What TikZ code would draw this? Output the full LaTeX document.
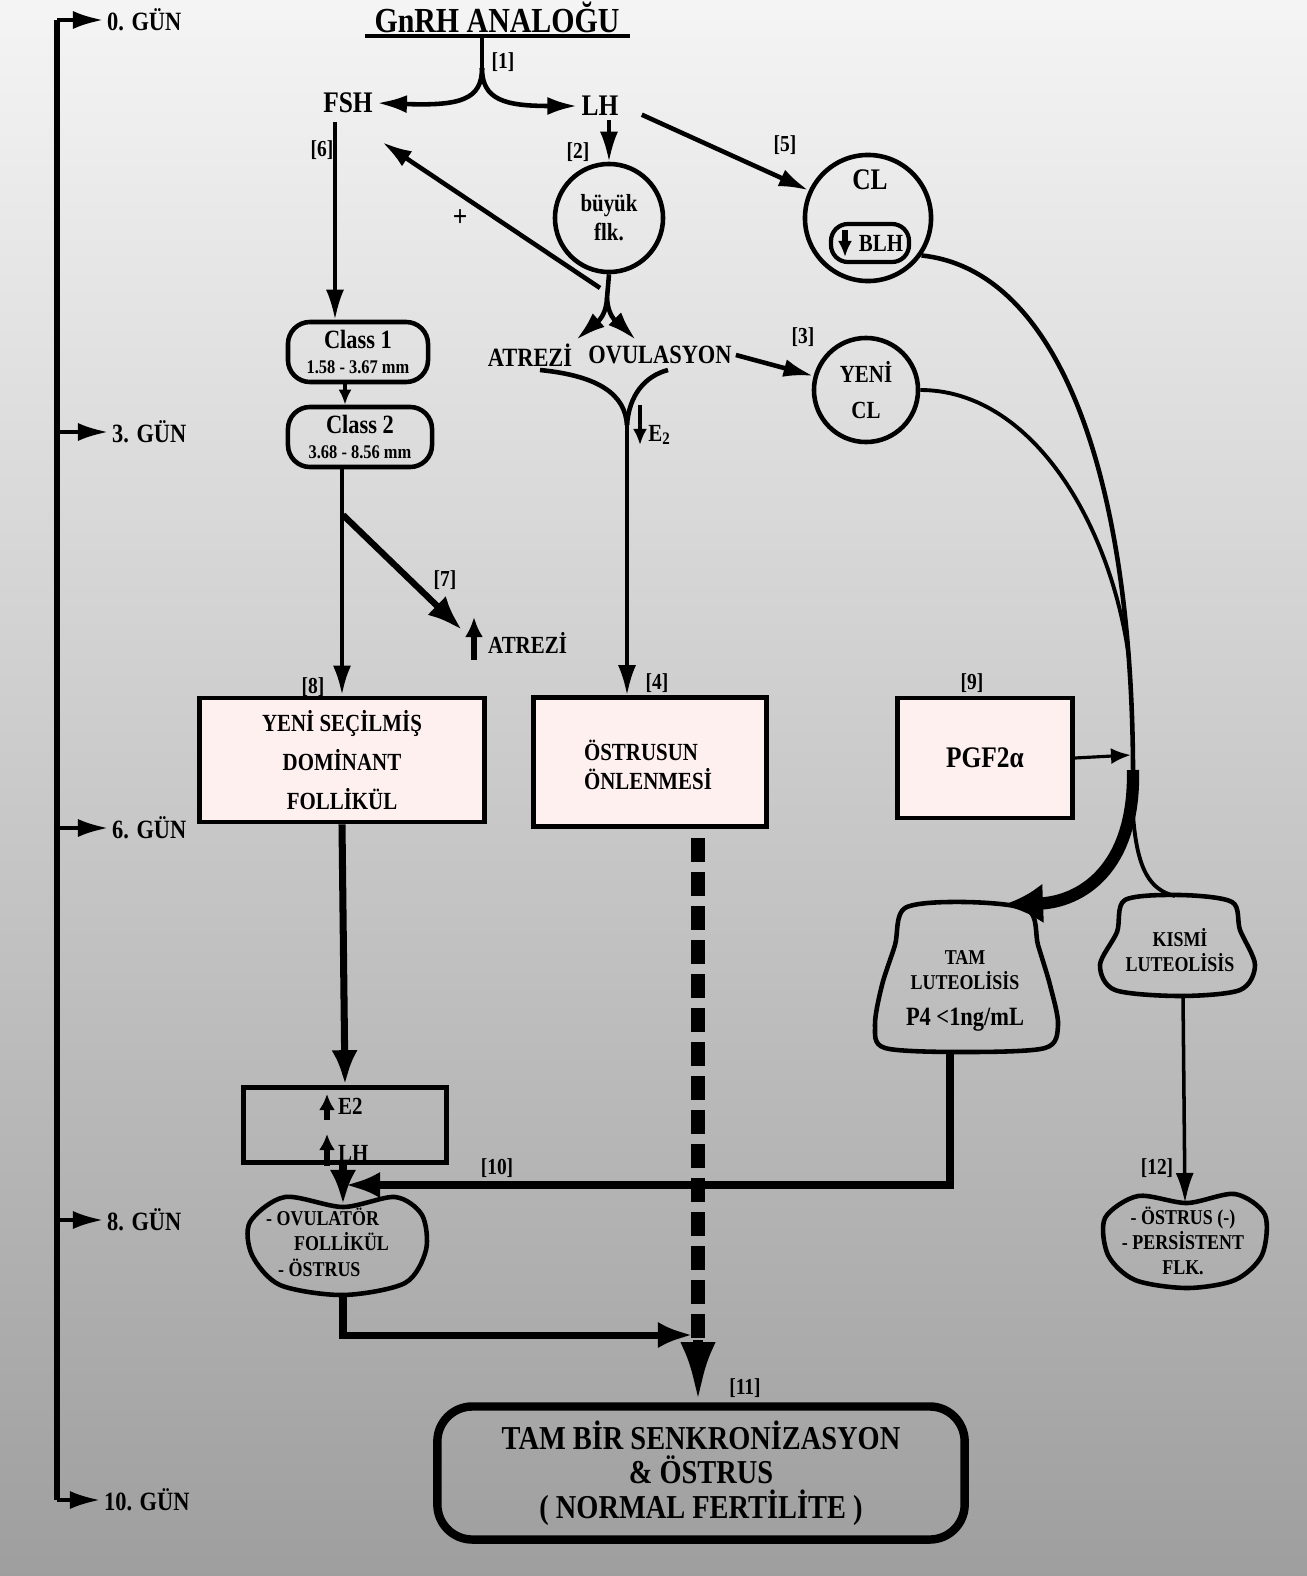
\documentclass[tikz,border=0pt]{standalone}
\usepackage{fontspec}
\setmainfont{Liberation Serif}[FakeStretch=0.85]
\usetikzlibrary{arrows.meta}

\begin{document}
\begin{tikzpicture}[x=0.01cm,y=-0.01cm]
\tikzset{gun/.style={font=\bfseries\fontsize{7.5}{9}\selectfont, inner sep=1pt},
etiket/.style={font=\bfseries\fontsize{6.5}{8}\selectfont, inner sep=1pt},
baslik/.style={font=\bfseries\fontsize{10}{11}\selectfont, inner sep=1pt},
hormon/.style={font=\bfseries\fontsize{8.5}{10}\selectfont, inner sep=1pt},
yazi/.style={font=\bfseries\fontsize{7}{8.2}\selectfont, inner sep=1pt, align=center},
minik/.style={font=\bfseries\fontsize{6}{7.2}\selectfont, inner sep=1pt, align=center},
daire/.style={draw, circle, line width=1.3pt, inner sep=0pt, align=center},
sinif/.style={draw, rounded corners=0.22cm, line width=1.3pt, align=center, inner sep=1pt, font=\bfseries\fontsize{7.5}{8}\selectfont},
kutu/.style={draw, line width=1.3pt, fill=red!6!white, align=center},
bulut/.style={line width=1.3pt},
ok/.style={-{Latex[length=3mm,width=1.8mm]}, line width=1pt},
kalin/.style={-{Latex[length=3.5mm,width=2.6mm]}, line width=2pt}}
\useasboundingbox (0,0) rectangle (1307,1576);
\fill[black!20] (-5,-5) rectangle (1312,1581);
\fill[top color=black!4, bottom color=black!38] (-5,-5) rectangle (1312,1581);
\coordinate (t0) at (57,20);
\coordinate (t3) at (57,432);
\coordinate (t6) at (57,828);
\coordinate (t8) at (57,1220);
\coordinate (t10) at (57,1500);
\node[gun, anchor=west] (g0) at (103,20) {0. GÜN};
\node[gun, anchor=west] (g3) at (108,432) {3. GÜN};
\node[gun, anchor=west] (g6) at (108,828) {6. GÜN};
\node[gun, anchor=west] (g8) at (103,1220) {8. GÜN};
\node[gun, anchor=west] (g10) at (100,1500) {10. GÜN};
\draw[line width=1.5pt] (t0) -- (t10);
\draw[ok] (t0) -- (g0.west);
\draw[ok] (t3) -- (g3.west);
\draw[ok] (t6) -- (g6.west);
\draw[ok] (t8) -- (g8.west);
\draw[ok] (t10) -- (g10.west);
\node[baslik] (gnrh) at (497,17) {GnRH ANALOĞU};
\draw[line width=1.3pt] (365,36) -- (630,36);
\coordinate (gy) at (482,36);
\coordinate (gyalt) at (482,68);
\node[hormon] (fsh) at (348,103) {FSH};
\node[hormon] (lh) at (600,106) {LH};
\node[etiket] (e1) at (503,62) {[1]};
\draw[line width=1.3pt] (gy) -- (gyalt);
\draw[ok, line width=1.3pt] (gyalt) .. controls (482,100) and (460,106) .. (fsh.east);
\draw[ok, line width=1.3pt] (gyalt) .. controls (482,100) and (505,106) .. (lh.west);
\node[daire, minimum size=1.08cm, yazi] (flk) at (609,218) {büyük\\flk.};
\node[daire, minimum size=1.26cm] (cl) at (868,218) {};
\node[hormon] (cly) at (870,180) {CL};
\node[draw, rounded corners=0.17cm, line width=1.2pt, minimum width=0.78cm, minimum height=0.38cm, yazi] (blh) at (870,243) {\hspace{0.22cm}BLH};
\draw[-{Latex[length=1.6mm,width=1.4mm]}, line width=1.6pt] (845,230) -- (845,257);
\node[daire, minimum size=1.04cm, yazi] (ycl) at (866,390) {YENİ\\[2pt]CL};
\node[etiket] (e2) at (578,152) {[2]};
\node[etiket] (e5) at (785,145) {[5]};
\node[etiket] (e3) at (803,337) {[3]};
\node[etiket] (e6) at (322,150) {[6]};
\draw[ok] (lh.south -| flk.north) -- (flk.north);
\draw[ok, line width=1.3pt, shorten <=6pt] (lh.east) -- (cl.155);
\coordinate (arti) at (600,288);
\coordinate (fshsag) at (382,142);
\draw[ok, line width=1.3pt] (arti) -- (fshsag);
\node[hormon] (plus) at (460,218) {+};
\coordinate (flkalt) at (607,298);
\node[yazi, font=\bfseries\fontsize{7.5}{8.5}\selectfont] (atr) at (530,355) {ATREZİ};
\node[yazi, font=\bfseries\fontsize{7.5}{8.5}\selectfont] (ovu) at (660,355) {OVULASYON};
\draw[line width=1.3pt] (flk.south) -- (flkalt);
\draw[ok, line width=1.3pt] (flkalt) .. controls (606,320) and (592,326) .. (576,340);
\draw[ok, line width=1.3pt] (flkalt) .. controls (608,320) and (622,326) .. (636,340);
\draw[ok, line width=1.3pt] (ovu.east) -- (ycl.165);
\coordinate (huni) at (627,425);
\draw[line width=1.3pt] (540,370) .. controls (600,376) and (625,395) .. (huni);
\draw[line width=1.3pt] (668,370) .. controls (645,376) and (629,395) .. (huni);
\node[sinif, minimum width=1.4cm, minimum height=0.6cm] (c1) at (358,352) {Class 1\\[-1pt]{\fontsize{5.5}{6}\selectfont 1.58 - 3.67 mm}};
\node[sinif, minimum width=1.44cm, minimum height=0.6cm] (c2) at (360,437) {Class 2\\[-1pt]{\fontsize{5.5}{6}\selectfont 3.68 - 8.56 mm}};
\coordinate (fshalt) at (335,122);
\draw[ok] (fshalt) -- (fshalt |- c1.north);
\draw[-{Latex[length=1.5mm,width=1.3mm]}, line width=1pt] (c1.south -| 345,0) -- (c2.north -| 345,0);
\node[kutu, minimum width=2.85cm, minimum height=1.24cm, yazi] (yeni) at (342,760) {YENİ SEÇİLMİŞ\\[3pt]DOMİNANT\\[3pt]FOLLİKÜL};
\node[kutu, minimum width=2.33cm, minimum height=1.29cm, yazi] (ostr) at (650,762) {};
\node[yazi, align=left] (ostry) at (648,765) {ÖSTRUSUN\\ÖNLENMESİ};
\node[kutu, minimum width=1.75cm, minimum height=1.2cm, hormon] (pgf) at (985,758) {PGF2α};
\node[etiket] (e8) at (313,687) {[8]};
\node[etiket] (e4) at (657,683) {[4]};
\node[etiket] (e9) at (972,683) {[9]};
\node[etiket] (e7) at (445,580) {[7]};
\draw[ok] (huni) -- (huni |- ostr.north);
\draw[-{Latex[length=1.6mm,width=1.4mm]}, line width=1.4pt] (640,405) -- (640,445);
\node[yazi] (e2yazi) at (660,435) {E\textsubscript{2}};
\draw[ok, line width=1.3pt] (c2.south -| yeni.north) -- (yeni.north);
\coordinate (dal) at (343,515);
\coordinate (dalucu) at (462,630);
\draw[kalin, line width=1.8pt] (dal) -- (dalucu);
\node[yazi, anchor=west] (atr2) at (484,643) {ATREZİ};
\draw[-{Latex[length=2mm,width=1.8mm]}, line width=1.8pt] (474,660) -- (474,617);
\coordinate (kavsak) at (1129,658);
\coordinate (birles) at (1133,790);
\coordinate (tamust) at (1003,905);
\coordinate (kismiust) at (1175,896);
\coordinate (pgfok) at (1131,755);
\draw[line width=1.3pt] (cl.-35) .. controls (1060,270) and (1135,480) .. (birles);
\draw[line width=1.1pt] (ycl.east) .. controls (1030,390) and (1110,520) .. (kavsak);
\draw[-{Latex[length=4mm,width=4mm]}, line width=3.5pt] (1133,770) .. controls (1135,870) and (1080,902) .. (tamust);
\draw[line width=1.1pt] (1133,815) .. controls (1137,870) and (1150,890) .. (kismiust);
\draw[-{Latex[length=2mm,width=1.6mm]}, line width=0.9pt] (pgf.east) -- (pgfok);
\draw[bulut] plot[smooth cycle] coordinates {(905,908) (965,902) (1028,910) (1038,945) (1050,985) (1058,1025) (1045,1048) (965,1052) (885,1048) (875,1025) (882,985) (895,945)};
\node[minik] (tam) at (965,970) {TAM\\LUTEOLİSİS};
\node[yazi, font=\bfseries\fontsize{7.5}{8.5}\selectfont] (p4) at (965,1020) {P4 <1ng/mL};
\draw[bulut] plot[smooth cycle] coordinates {(1125,900) (1180,895) (1232,902) (1240,930) (1255,965) (1240,990) (1180,996) (1115,990) (1100,965) (1117,932)};
\node[minik] (kismi) at (1180,950) {KISMİ\\LUTEOLİSİS};
\draw[bulut] plot[smooth cycle] coordinates {(1187,1203) (1235,1194) (1265,1215) (1262,1255) (1235,1280) (1187,1288) (1135,1280) (1108,1255) (1105,1218) (1138,1196)};
\node[minik] (ostrusy) at (1183,1241) {- ÖSTRUS (-)\\- PERSİSTENT\\FLK.};
\coordinate (kismialt) at (1183,996);
\coordinate (ostrusust) at (1185,1203);
\node[etiket] (e12) at (1157,1168) {[12]};
\draw[ok] (kismialt) -- (ostrusust);
\node[draw, line width=1.3pt, minimum width=2.03cm, minimum height=0.75cm] (e2k) at (345,1125) {};
\node[yazi, anchor=west] (e2y) at (334,1106) {E2};
\node[yazi, anchor=west] (lhy) at (334,1153) {LH};
\draw[-{Latex[length=1.6mm,width=1.6mm]}, line width=1.6pt] (327,1120) -- (327,1094);
\draw[-{Latex[length=1.6mm,width=1.6mm]}, line width=1.6pt] (327,1166) -- (327,1134);
\draw[kalin] (yeni.south) -- (e2k.north);
\draw[bulut] plot[smooth cycle] coordinates {(343,1207) (395,1197) (422,1215) (426,1250) (405,1283) (343,1295) (280,1285) (252,1255) (250,1222) (285,1197)};
\node[minik, align=left, anchor=west] (ovul) at (262,1242) {- OVULATÖR\\\hspace{0.28cm}FOLLİKÜL\\\hspace{0.12cm}- ÖSTRUS};
\coordinate (ovulust) at (343,1205);
\draw[kalin] (e2k.south -| ovulust) -- (ovulust);
\coordinate (tamalt) at (950,1050);
\coordinate (kose) at (950,1185);
\coordinate (ovuok) at (345,1185);
\node[etiket] (e10) at (497,1168) {[10]};
\draw[kalin] (tamalt) -- (kose) -- (ovuok);
\coordinate (ovalt) at (343,1295);
\coordinate (ovkose) at (343,1335);
\coordinate (birok) at (693,1335);
\draw[kalin] (ovalt) -- (ovkose) -- (birok);
\node[draw, rounded corners=0.35cm, line width=2.4pt, minimum width=5.27cm, minimum height=1.33cm, align=center, font=\bfseries\fontsize{9.5}{9.8}\selectfont] (son) at (701,1473) {TAM BİR SENKRONİZASYON\\\& ÖSTRUS\\( NORMAL FERTİLİTE )};
\coordinate (kesik) at (698,838);
\coordinate (kesikalt) at (698,1340);
\draw[line width=4pt, dash pattern=on 0.24cm off 0.1cm] (kesik) -- (kesikalt);
\draw[-{Latex[length=6mm,width=3.5mm]}, line width=3pt] (kesikalt) -- (kesikalt |- son.north);
\node[etiket] (e11) at (745,1388) {[11]};
\end{tikzpicture}
\end{document}
